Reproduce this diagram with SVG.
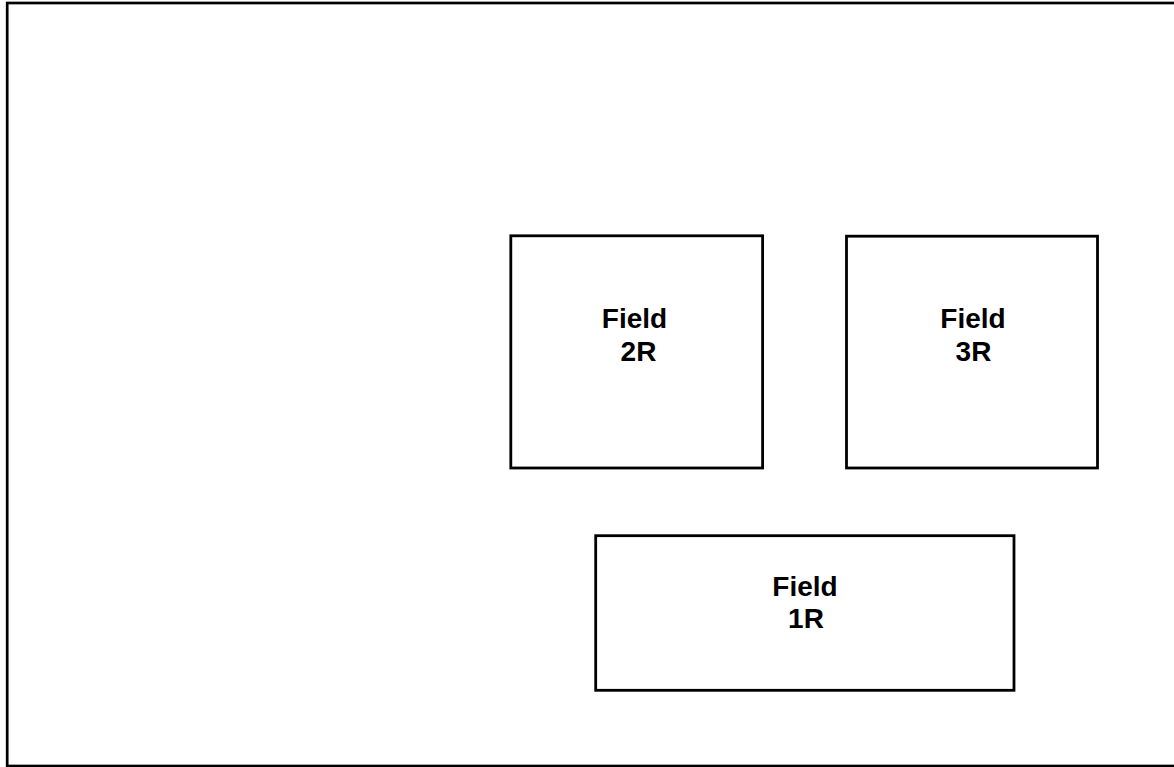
<svg xmlns="http://www.w3.org/2000/svg" width="1174" height="767" viewBox="0 0 1174 767">
<style>
.box{fill:none;stroke:#000;stroke-width:2.8}
.lbl{font-family:"Liberation Sans",Arial,sans-serif;font-weight:bold;font-size:28px;fill:#000;text-anchor:middle}
</style>
<rect x="0" y="0" width="1174" height="767" fill="#fff"/>
<rect id="frame" x="7.2" y="3" width="1180" height="763" fill="none" stroke="#000" stroke-width="2.7"/>
<g id="field-2r">
<rect class="box" x="510.8" y="235.8" width="251.8" height="232.2"/>
<text class="lbl" x="634.5" y="328">Field</text>
<text class="lbl" x="638.5" y="361">2R</text>
</g>
<g id="field-3r">
<rect class="box" x="846.5" y="236.2" width="251" height="231.8"/>
<text class="lbl" x="973" y="328">Field</text>
<text class="lbl" x="973.5" y="361">3R</text>
</g>
<g id="field-1r">
<rect class="box" x="595.7" y="535.7" width="418.3" height="154.6"/>
<text class="lbl" x="805" y="596">Field</text>
<text class="lbl" x="806" y="628">1R</text>
</g>
<g id="connectors"></g>
</svg>
